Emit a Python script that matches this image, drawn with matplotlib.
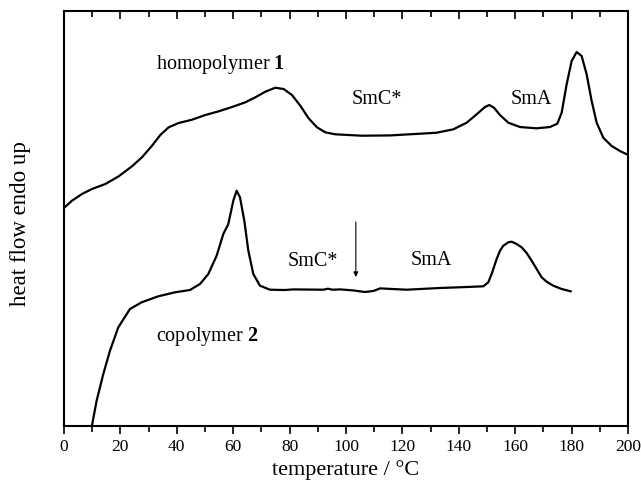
import matplotlib
matplotlib.use("Agg")
import matplotlib.pyplot as plt
import numpy as np

plt.rcParams["font.family"] = ["Liberation Serif", "DejaVu Serif"]
plt.rcParams["mathtext.fontset"] = "custom"
plt.rcParams["mathtext.rm"] = "Liberation Serif"
plt.rcParams["mathtext.bf"] = "Liberation Serif:bold"

# homopolymer 1 trace (temperature in degC, heat flow in arbitrary units)
homo_t = [0.24, 2.84, 6.38, 9.93, 14.66, 19.39, 24.11, 27.66, 31.21, 34.16,
          37.12, 40.66, 45.39, 50.12, 54.85, 59.57, 64.30, 67.85, 71.39, 74.94,
          77.90, 80.85, 83.81, 86.76, 89.72, 92.67, 96.22, 100.95, 105.67,
          115.6, 126.24, 132.15, 138.06, 142.79, 146.34, 149.29, 150.83, 152.48,
          154.61, 157.56, 161.70, 167.61, 172.34, 174.94, 176.48, 178.25, 180.02,
          181.80, 183.57, 185.34, 187.12, 188.89, 191.25, 194.21, 197.16, 200.12]
homo_hf = [218.4, 225.0, 231.7, 236.7, 241.7, 249.4, 259.4, 268.4, 280.0, 290.7,
           298.4, 302.7, 306.0, 310.7, 314.4, 318.7, 323.4, 328.4, 334.0, 338.0,
           336.7, 330.7, 320.0, 307.4, 298.4, 293.4, 291.4, 290.7, 290.0,
           290.3, 292.0, 293.0, 296.4, 303.0, 311.4, 318.7, 320.7, 318.0,
           310.7, 303.0, 298.7, 297.4, 298.7, 302.0, 313.0, 341.4, 364.7,
           373.7, 369.7, 351.4, 324.7, 303.0, 288.0, 279.7, 274.7, 270.7]

# copolymer 2 trace
co_t = [9.81, 11.58, 13.95, 16.31, 19.27, 23.40, 27.54, 33.45, 39.36, 44.68,
        48.23, 51.18, 54.14, 56.50, 58.27, 60.05, 61.23, 62.41, 63.95, 65.37,
        67.14, 69.50, 73.05, 78.37, 81.3, 92.0, 93.6, 95.2, 97.9, 102.6, 106.7,
        109.7, 112.1, 121.5, 133.3, 142.8, 148.70, 150.47, 151.65, 153.43,
        154.61, 155.79, 157.56, 158.75, 160.52, 162.29, 164.07, 165.84, 167.61,
        169.39, 171.16, 173.52, 176.48, 179.67]
co_hf = [-1.6, 25.0, 51.7, 75.0, 98.4, 116.7, 123.4, 129.4, 133.4, 135.7,
         141.7, 151.7, 170.0, 191.7, 201.7, 225.0, 235.0, 228.4, 205.0, 175.0,
         151.7, 140.0, 136.0, 135.7, 136.3, 136.0, 137.0, 136.0, 136.3, 135.3,
         133.7, 134.7, 137.3, 136.0, 137.7, 138.7, 139.4, 143.4, 151.7, 166.7,
         175.0, 180.0, 183.4, 184.0, 181.7, 178.4, 172.7, 165.0, 156.7,
         148.4, 144.0, 140.0, 136.7, 134.4]

# phase labels: (text, x, y)
labels = [("SmC*", 111.0, 327.0), ("SmA", 165.8, 327.0),
          ("SmC*", 88.4, 165.0), ("SmA", 130.2, 166.0)]
arrow_x = 103.5
arrow_y = (203.7, 148.7)

fig = plt.figure(figsize=(6.41, 4.81), dpi=100)
ax = fig.add_axes([0.0998, 0.1129, 0.8799, 0.8621])

ax.plot(homo_t, homo_hf, color="black", lw=1.6, solid_joinstyle="round")
ax.plot(co_t, co_hf, color="black", lw=1.6, solid_joinstyle="round")

ax.text(32.8, 362, r"homopolymer $\mathbf{1}$", fontsize=14.5, va="center", ha="left")
ax.text(32.8, 90.3, r"copolymer $\mathbf{2}$", fontsize=14.5, va="center", ha="left")
for txt, x, y in labels:
    ax.text(x, y, txt, fontsize=14.5, ha="center", va="center")

ax.annotate("", xy=(arrow_x, arrow_y[1]), xytext=(arrow_x, arrow_y[0]),
            arrowprops=dict(arrowstyle="-|>", color="black", lw=0.8,
                            mutation_scale=7, shrinkA=0, shrinkB=0))

ax.set_xlim(0, 200)
ax.set_ylim(0, 414.7)
ax.set_xticks(np.arange(0, 201, 20))
ax.set_xticks(np.arange(10, 200, 20), minor=True)
ax.set_yticks([])
ax.tick_params(axis="x", which="major", direction="out", length=6, width=1.2,
               labelsize=12.5, pad=3, top=True)
ax.tick_params(axis="x", which="minor", direction="out", length=4, width=1.2, top=True)

# top ticks point inward
for tick in ax.xaxis.get_major_ticks() + ax.xaxis.get_minor_ticks():
    tick.tick2line.set_marker(3)

for s in ax.spines.values():
    s.set_linewidth(1.5)

ax.set_xlabel("temperature / °C", fontsize=16)
ax.xaxis.set_label_coords(0.5, -0.08)
ax.set_ylabel("heat flow endo up", fontsize=16.5)
ax.yaxis.set_label_coords(-0.058, 0.49)

fig.savefig("out.png", dpi=100)
